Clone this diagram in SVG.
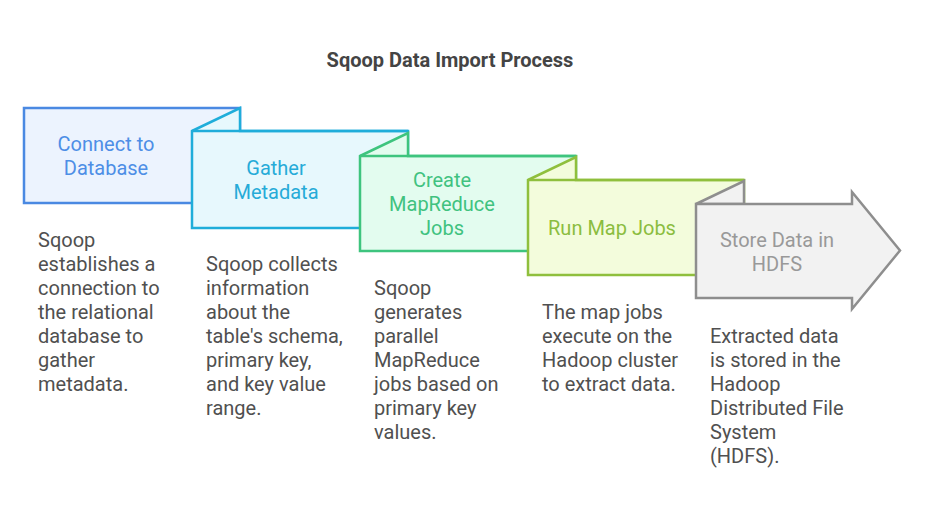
<svg xmlns="http://www.w3.org/2000/svg" width="925" height="516" viewBox="0 0 925 516">
<style>
text{font-family:Roboto,"Liberation Sans",sans-serif;}
.t{font-size:20px;text-anchor:middle;}
.d{font-size:20px;fill:#505050;}
.s{stroke-width:2.5;stroke-linejoin:miter;}
</style>
<rect width="925" height="516" fill="#ffffff"/>
<text x="450" y="67" font-size="20" font-weight="bold" fill="#444444" text-anchor="middle">Sqoop Data Import Process</text>
<g id="connectors"></g>
<g id="node1">
<rect class="s" x="24" y="108" width="216" height="95" fill="#ecf3fe" stroke="#4a89e2"/>
<text class="t" fill="#4d8ee6" x="106" y="151">Connect to</text>
<text class="t" fill="#4d8ee6" x="106" y="175">Database</text>
</g>
<g id="node2">
<path class="s" d="M192,131 L240,108 L240,131 L408,131 L408,228 L192,228 Z" fill="#e7f8fd" stroke="#1fadda"/>
<path class="s" d="M192,131 L408,131" fill="none" stroke="#1fadda"/>
<text class="t" fill="#26abd8" x="276" y="175">Gather</text>
<text class="t" fill="#26abd8" x="276" y="199">Metadata</text>
</g>
<g id="node3">
<path class="s" d="M360,156 L408,133 L408,156 L576,156 L576,251 L360,251 Z" fill="#e3fcef" stroke="#3ec47e"/>
<path class="s" d="M360,156 L576,156" fill="none" stroke="#3ec47e"/>
<text class="t" fill="#40c27f" x="442" y="187">Create</text>
<text class="t" fill="#40c27f" x="442" y="211">MapReduce</text>
<text class="t" fill="#40c27f" x="442" y="235">Jobs</text>
</g>
<g id="node4">
<path class="s" d="M528,180 L576,157 L576,180 L744,180 L744,275 L528,275 Z" fill="#f3fcdc" stroke="#8fbf3d"/>
<path class="s" d="M528,180 L744,180" fill="none" stroke="#8fbf3d"/>
<text class="t" fill="#8bbd3f" x="612" y="235">Run Map Jobs</text>
</g>
<g id="node5">
<path class="s" d="M696,204 L744,181 L744,204 Z" fill="#f2f2f2" stroke="#8e8e8e"/>
<path class="s" d="M696,204 L852,204 L852,192 L900,250.5 L852,309 L852,298 L696,298 Z" fill="#f2f2f2" stroke="#8e8e8e"/>
<text class="t" fill="#999999" x="777" y="247">Store Data in</text>
<text class="t" fill="#999999" x="777" y="271">HDFS</text>
</g>
<g id="desc1">
<text class="d" x="38" y="247">Sqoop</text>
<text class="d" x="38" y="271">establishes a</text>
<text class="d" x="38" y="295">connection to</text>
<text class="d" x="38" y="319">the relational</text>
<text class="d" x="38" y="343">database to</text>
<text class="d" x="38" y="367">gather</text>
<text class="d" x="38" y="391">metadata.</text>
</g>
<g id="desc2">
<text class="d" x="206" y="271">Sqoop collects</text>
<text class="d" x="206" y="295">information</text>
<text class="d" x="206" y="319">about the</text>
<text class="d" x="206" y="343">table's schema,</text>
<text class="d" x="206" y="367">primary key,</text>
<text class="d" x="206" y="391">and key value</text>
<text class="d" x="206" y="415">range.</text>
</g>
<g id="desc3">
<text class="d" x="374" y="295">Sqoop</text>
<text class="d" x="374" y="319">generates</text>
<text class="d" x="374" y="343">parallel</text>
<text class="d" x="374" y="367">MapReduce</text>
<text class="d" x="374" y="391">jobs based on</text>
<text class="d" x="374" y="415">primary key</text>
<text class="d" x="374" y="439">values.</text>
</g>
<g id="desc4">
<text class="d" x="542" y="319">The map jobs</text>
<text class="d" x="542" y="343">execute on the</text>
<text class="d" x="542" y="367">Hadoop cluster</text>
<text class="d" x="542" y="391">to extract data.</text>
</g>
<g id="desc5">
<text class="d" x="710" y="343">Extracted data</text>
<text class="d" x="710" y="367">is stored in the</text>
<text class="d" x="710" y="391">Hadoop</text>
<text class="d" x="710" y="415">Distributed File</text>
<text class="d" x="710" y="439">System</text>
<text class="d" x="710" y="463">(HDFS).</text>
</g>
</svg>
